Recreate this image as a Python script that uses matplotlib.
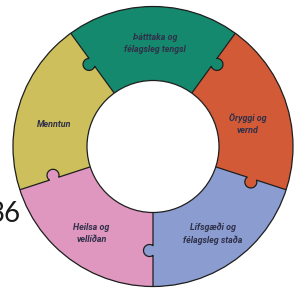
import numpy as np
import matplotlib.pyplot as plt
from matplotlib.patches import Wedge, Circle

# Segments of the ring (equal shares), counter-clockwise from -18 deg
labels = ["Öryggi og\nvernd",
          "Þátttaka og\nfélagsleg tengsl",
          "Menntun",
          "Heilsa og\nvellíðan",
          "Lífsgæði og\nfélagsleg staða"]
shares = [1, 1, 1, 1, 1]
colors = ["#d35a36", "#14896d", "#cdc05c", "#df97bf", "#8b9dd0"]
side_number = "36"

# puzzle knob on each boundary: side (+1 ccw / -1 cw) and owner segment
knob_side = [-1, -1, 1, -1, -1]
knob_owner = [0, 1, 1, 3, 4]

cx, cy = 153, 146.5
r_out, r_in = 140, 66
r_knob, rho, off = 104, 6.0, 3.5
start = -18

fig = plt.figure(figsize=(2.94, 2.93), dpi=100)
ax = fig.add_axes([0, 0, 1, 1])
ax.set_xlim(0, 294)
ax.set_ylim(0, 293)
ax.axis('off')

edges = start + 360 * np.concatenate([[0], np.cumsum(shares)]) / sum(shares)

for i, c in enumerate(colors):
    ax.add_patch(Wedge((cx, cy), r_out, edges[i], edges[i + 1], width=r_out - r_in,
                       facecolor=c, edgecolor='none', zorder=1))

lw = 0.9
ec = "#1e1e1e"
# knobs + boundary lines
for k in range(len(shares)):
    a = np.radians(edges[k])
    u = np.array([np.cos(a), np.sin(a)])
    n = np.array([-np.sin(a), np.cos(a)]) * knob_side[k]
    P = np.array([cx, cy]) + r_knob * u
    C = P + off * n
    ax.add_patch(Circle(C, rho, facecolor=colors[knob_owner[k]], edgecolor='none', zorder=2))
    h = np.sqrt(rho ** 2 - off ** 2)
    f0 = np.arctan2(-off, -h)
    f1 = np.arctan2(-off, h) - 2 * np.pi
    phi = np.linspace(f0, f1, 40)
    arc = C[None, :] + rho * (np.cos(phi)[:, None] * u[None, :] + np.sin(phi)[:, None] * n[None, :])
    p_in = np.array([cx, cy]) + r_in * u
    p_out = np.array([cx, cy]) + r_out * u
    pts = np.vstack([p_in, P - h * u, arc, P + h * u, p_out])
    ax.plot(pts[:, 0], pts[:, 1], color=ec, lw=lw, zorder=3, solid_capstyle='butt')

ax.add_patch(Circle((cx, cy), r_out, facecolor='none', edgecolor=ec, lw=lw, zorder=3))
ax.add_patch(Circle((cx, cy), r_in, facecolor='white', edgecolor=ec, lw=lw, zorder=3))

# labels
nudge = [(-3, -9), (2, 0), (-1, -10), (-1, -4), (-1, -4)]
for i, lab in enumerate(labels):
    m = np.radians((edges[i] + edges[i + 1]) / 2)
    x = cx + 103 * np.cos(m) + nudge[i][0]
    y = cy + 103 * np.sin(m) + nudge[i][1]
    ax.text(x, y, lab, ha='center', va='center', fontsize=6.4, fontstyle='italic',
            fontweight='bold', color="#30304a", family='Roboto', linespacing=1.45, zorder=4)

ax.text(21, 79, side_number, ha='right', va='center', fontsize=20, color="#1a1a1a",
        family='Lato')

fig.savefig("out.png", dpi=100)
